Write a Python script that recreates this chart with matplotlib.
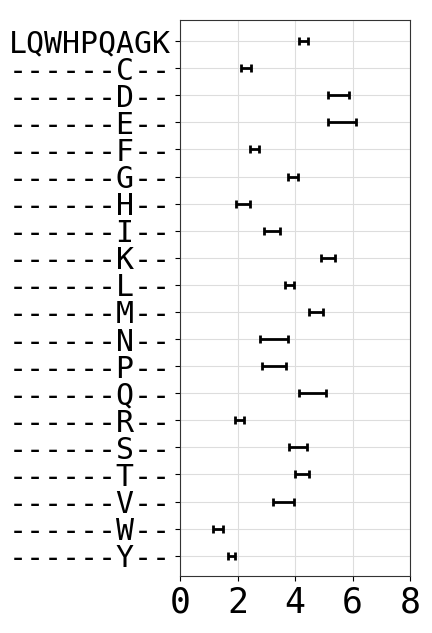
import matplotlib
matplotlib.use("Agg")
import matplotlib.pyplot as plt

# peptide variants and their mean values with error
labels = ['LQWHPQAGK', '------C--', '------D--', '------E--', '------F--',
          '------G--', '------H--', '------I--', '------K--', '------L--',
          '------M--', '------N--', '------P--', '------Q--', '------R--',
          '------S--', '------T--', '------V--', '------W--', '------Y--']
means = [4.30, 2.30, 5.50, 5.62, 2.59, 3.94, 2.20, 3.20, 5.15, 3.82,
         4.74, 3.28, 3.27, 4.60, 2.06, 4.11, 4.25, 3.60, 1.32, 1.78]
errors = [0.16, 0.17, 0.37, 0.49, 0.16, 0.17, 0.24, 0.27, 0.23, 0.16,
          0.25, 0.49, 0.41, 0.48, 0.16, 0.31, 0.24, 0.36, 0.17, 0.13]

plt.rcParams['font.family'] = 'DejaVu Sans Mono'

fig = plt.figure(figsize=(4.32, 6.33), dpi=100)
ax = fig.add_axes([0.417, 0.090, 0.532, 0.878])

ypos = list(range(len(labels)))
ax.errorbar(means, ypos, xerr=errors, fmt='none', ecolor='black',
            elinewidth=2, capsize=3, capthick=2)

ax.set_yticks(ypos)
ax.set_yticklabels(labels, fontsize=21.5)
ax.set_xticks([0, 2, 4, 6, 8])
ax.tick_params(axis='x', labelsize=25)
ax.set_xlim(0, 8)
ax.set_ylim(19.75, -0.77)
ax.grid(True, color='#dddddd', linewidth=0.8)
ax.set_axisbelow(True)
for s in ax.spines.values():
    s.set_color('#333333')

fig.savefig("out.png", dpi=100)
